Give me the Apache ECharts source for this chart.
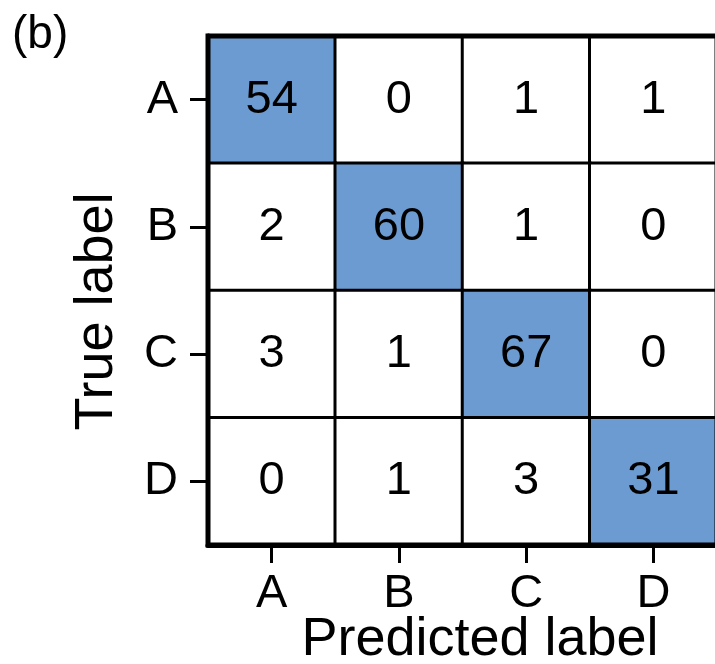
<!DOCTYPE html>
<html>
<head>
<meta charset="utf-8">
<script src="https://cdn.jsdelivr.net/npm/echarts@6/dist/echarts.min.js"></script>
<style>html,body{margin:0;padding:0;background:#fff;}#c{width:715px;height:664px;}</style>
</head>
<body>
<div id="c"></div>
<script>
var predictedLabels = ['A', 'B', 'C', 'D'];
var trueLabels = ['A', 'B', 'C', 'D'];
var rowA = [54, 0, 1, 1];
var rowB = [2, 60, 1, 0];
var rowC = [3, 1, 67, 0];
var rowD = [0, 1, 3, 31];
var matrix = [rowA, rowB, rowC, rowD];

var FONT = '"Liberation Sans", Arial, Helvetica, sans-serif';
var data = [];
for (var r = 0; r < matrix.length; r++) {
  for (var c = 0; c < matrix[r].length; c++) {
    data.push({
      value: [c, r, matrix[r][c]],
      itemStyle: { color: r === c ? '#6c9bd1' : '#ffffff' }
    });
  }
}

var chart = echarts.init(document.getElementById('c'), null, { renderer: 'canvas' });
chart.setOption({
  animation: false,
  backgroundColor: '#ffffff',
  textStyle: { fontFamily: FONT },
  graphic: [{
    type: 'text', left: 12, top: 12,
    style: { text: '(b)', fontSize: 46, fontFamily: FONT, fill: '#000' }
  }],
  grid: {
    left: 208, top: 36, width: 509, height: 509,
    outerBoundsMode: 'none',
    containLabel: false,
    show: true, borderColor: '#000', borderWidth: 5, backgroundColor: 'transparent',
    z: 10
  },
  xAxis: {
    type: 'category',
    data: predictedLabels,
    name: 'Predicted label',
    nameLocation: 'middle',
    nameMoveOverlap: false,
    nameGap: 68,
    nameTextStyle: { fontSize: 54, color: '#000', fontFamily: FONT, padding: [0, 0, 0, 35] },
    axisLine: { show: true, lineStyle: { color: '#000', width: 5 } },
    axisTick: { show: true, alignWithLabel: true, length: 18, lineStyle: { color: '#000', width: 3 } },
    axisLabel: { fontSize: 47, color: '#000', margin: 26, fontFamily: FONT },
    splitLine: { show: false },
    splitArea: { show: false }
  },
  yAxis: {
    type: 'category',
    data: trueLabels,
    inverse: true,
    name: 'True label',
    nameLocation: 'middle',
    nameMoveOverlap: false,
    nameGap: 84,
    nameTextStyle: { fontSize: 54, color: '#000', fontFamily: FONT, padding: [0, 42, 0, 0] },
    axisLine: { show: true, lineStyle: { color: '#000', width: 5 } },
    axisTick: { show: true, alignWithLabel: true, length: 18, lineStyle: { color: '#000', width: 3 } },
    axisLabel: { fontSize: 47, color: '#000', margin: 30, fontFamily: FONT },
    splitLine: { show: false },
    splitArea: { show: false }
  },
  series: [{
    type: 'heatmap',
    data: data,
    label: {
      show: true, fontSize: 47, color: '#000', fontFamily: FONT,
      formatter: function (p) { return p.value[2]; }
    },
    itemStyle: { borderColor: '#000', borderWidth: 3 },
    emphasis: { disabled: true }
  }]
});
</script>
</body>
</html>
